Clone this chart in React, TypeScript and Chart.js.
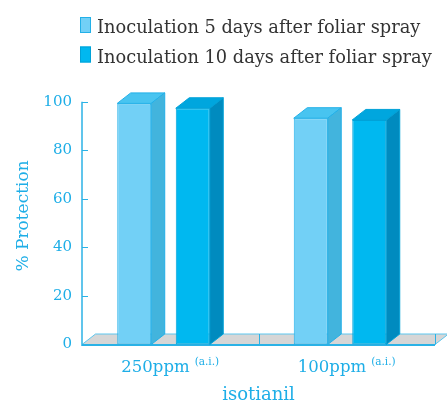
import React, { useEffect, useRef } from 'react';
import { Chart, registerables } from 'chart.js';

Chart.register(...registerables);

// ---- data ----
const categories = ['250ppm', '100ppm'];
const categorySuffix = ['(a.i.)', '(a.i.)'];
const seriesLabels = [
  'Inoculation 5 days after foliar spray',
  'Inoculation 10 days after foliar spray',
];
const days5 = [99.3, 93.2];
const days10 = [97.3, 92.5];
const yTickValues = [0, 20, 40, 60, 80, 100];
const yTitle = '% Protection';
const xTitle = 'isotianil';

// ---- style ----
const FONT = '"DejaVu Serif", serif';
const TEXT = '#1eaee7';
const AXIS = '#2bb2e6';
const DX = 13.5;
const DY = -10.5;

const frontColors = ['#72d0f6', '#00b8f0'];
const topColors = ['#48c4f0', '#00a6de'];
const sideColors = ['#42b4dd', '#008bbf'];
const edgeColors = ['#22b0e8', '#00a2d8'];

const threeD = {
  id: 'threeD',
  afterDatasetsUpdate(chart: any) {
    chart.data.datasets.forEach((_: any, i: number) => {
      const meta = chart.getDatasetMeta(i);
      meta.data.forEach((el: any) => {
        el.x -= DX / 2;
      });
    });
  },
  beforeDatasetsDraw(chart: any) {
    const { ctx, chartArea: a, scales } = chart;
    const x = scales.x;
    const y = scales.y;
    const base = y.getPixelForValue(0);
    ctx.save();
    // floor
    ctx.beginPath();
    ctx.moveTo(a.left, base);
    ctx.lineTo(a.right, base);
    ctx.lineTo(a.right + DX, base + DY);
    ctx.lineTo(a.left + DX, base + DY);
    ctx.closePath();
    ctx.fillStyle = '#d6d6d6';
    ctx.fill();
    ctx.strokeStyle = '#5cc6ee';
    ctx.lineWidth = 1;
    ctx.stroke();
    // category dividers
    ctx.strokeStyle = AXIS;
    for (let i = 0; i < categories.length; i++) {
      const px = Math.round(x.getPixelForValue(i + 0.5)) + 0.5;
      ctx.beginPath();
      ctx.moveTo(px, base);
      ctx.lineTo(px, base + DY);
      ctx.stroke();
    }
    // front floor edge
    ctx.lineWidth = 2;
    ctx.beginPath();
    ctx.moveTo(a.left, base + 0.5);
    ctx.lineTo(a.right, base + 0.5);
    ctx.stroke();
    // y axis line + inward ticks
    ctx.lineWidth = 1.5;
    ctx.beginPath();
    ctx.moveTo(a.left, a.top);
    ctx.lineTo(a.left, base + 1.5);
    ctx.stroke();
    ctx.lineWidth = 1;
    yTickValues.forEach((v) => {
      const py = Math.round(y.getPixelForValue(v)) + 0.5;
      ctx.beginPath();
      ctx.moveTo(a.left, py);
      ctx.lineTo(a.left + 6, py);
      ctx.stroke();
    });
    ctx.restore();
  },
  afterDatasetsDraw(chart: any) {
    const { ctx } = chart;
    ctx.save();
    ctx.lineWidth = 1;
    chart.data.datasets.forEach((_: any, i: number) => {
      const meta = chart.getDatasetMeta(i);
      meta.data.forEach((el: any) => {
        const p = el.getProps(['x', 'y', 'base', 'width'], true);
        const x0 = p.x - p.width / 2;
        const x1 = p.x + p.width / 2;
        // top face
        ctx.beginPath();
        ctx.moveTo(x0, p.y);
        ctx.lineTo(x1, p.y);
        ctx.lineTo(x1 + DX, p.y + DY);
        ctx.lineTo(x0 + DX, p.y + DY);
        ctx.closePath();
        ctx.fillStyle = topColors[i];
        ctx.fill();
        ctx.strokeStyle = edgeColors[i];
        ctx.stroke();
        // side face
        ctx.beginPath();
        ctx.moveTo(x1, p.y);
        ctx.lineTo(x1 + DX, p.y + DY);
        ctx.lineTo(x1 + DX, p.base + DY);
        ctx.lineTo(x1, p.base);
        ctx.closePath();
        ctx.fillStyle = sideColors[i];
        ctx.fill();
        ctx.strokeStyle = edgeColors[i];
        ctx.stroke();
      });
    });
    ctx.restore();
  },
  afterDraw(chart: any) {
    const { ctx, scales } = chart;
    const x = scales.x;
    ctx.save();
    // category labels with superscript
    const mainFont = `16.5px ${FONT}`;
    const supFont = `10.5px ${FONT}`;
    categories.forEach((c, i) => {
      ctx.font = mainFont;
      const wm = ctx.measureText(c).width;
      ctx.font = supFont;
      const ws = ctx.measureText(categorySuffix[i]).width;
      const gap = 5;
      const total = wm + gap + ws;
      const cx = x.getPixelForValue(i);
      const sx = cx - total / 2;
      ctx.fillStyle = TEXT;
      ctx.textAlign = 'left';
      ctx.textBaseline = 'alphabetic';
      ctx.font = mainFont;
      ctx.fillText(c, sx, 371.5);
      ctx.font = supFont;
      ctx.fillText(categorySuffix[i], sx + wm + gap, 365);
    });
    // y title
    ctx.save();
    ctx.translate(24, 216);
    ctx.rotate(-Math.PI / 2);
    ctx.font = `17px ${FONT}`;
    ctx.textAlign = 'center';
    ctx.textBaseline = 'middle';
    ctx.fillStyle = TEXT;
    ctx.fillText(yTitle, 0, 0);
    ctx.restore();
    // legend
    chart.data.datasets.forEach((ds: any, i: number) => {
      const top = 17 + i * 29.5;
      ctx.fillStyle = frontColors[i];
      ctx.fillRect(80, top, 11, 16);
      ctx.strokeStyle = edgeColors[i];
      ctx.lineWidth = 1;
      ctx.strokeRect(80.5, top + 0.5, 10, 15);
      ctx.fillStyle = '#333333';
      ctx.font = `17.8px ${FONT}`;
      ctx.textAlign = 'left';
      ctx.textBaseline = 'alphabetic';
      ctx.fillText(ds.label, 97, top + 16.3);
    });
    ctx.restore();
  },
};

export default function App() {
  const ref = useRef<HTMLCanvasElement | null>(null);
  useEffect(() => {
    document.body.style.margin = '0';
    const canvas = ref.current;
    if (!canvas) return;
    Chart.defaults.font.family = FONT;
    const chart = new Chart(canvas, {
      type: 'bar',
      data: {
        labels: categories,
        datasets: [
          {
            label: seriesLabels[0],
            data: days5,
            backgroundColor: frontColors[0],
            borderColor: edgeColors[0],
            borderWidth: 1,
            borderSkipped: false,
            categoryPercentage: 0.663,
            barPercentage: 0.581,
          },
          {
            label: seriesLabels[1],
            data: days10,
            backgroundColor: frontColors[1],
            borderColor: edgeColors[1],
            borderWidth: 1,
            borderSkipped: false,
            categoryPercentage: 0.663,
            barPercentage: 0.581,
          },
        ],
      },
      options: {
        responsive: false,
        animation: false,
        events: [],
        layout: { padding: { top: 101.7, right: 12, left: 0, bottom: 0 } },
        plugins: {
          legend: { display: false },
          tooltip: { enabled: false },
        },
        scales: {
          x: {
            type: 'category',
            offset: true,
            grid: { display: false, drawTicks: false },
            border: { display: false },
            ticks: { display: false },
            title: {
              display: true,
              text: xTitle,
              color: TEXT,
              font: { family: FONT, size: 18 },
              padding: { top: 0, bottom: 0 },
            },
            afterFit: (s: any) => {
              s.height = 61.5;
            },
          },
          y: {
            min: 0,
            max: 100,
            ticks: {
              stepSize: 20,
              color: TEXT,
              padding: 10,
              font: { family: FONT, size: 15 },
            },
            grid: { display: false, drawTicks: false },
            border: { display: false },
            afterFit: (s: any) => {
              s.width = 82;
            },
          },
        },
      },
      plugins: [threeD],
    });
    return () => chart.destroy();
  }, []);
  return (
    <div style={{ width: 447, height: 406, position: 'relative' }}>
      <canvas ref={ref} width={447} height={406} style={{ display: 'block' }} />
    </div>
  );
}
